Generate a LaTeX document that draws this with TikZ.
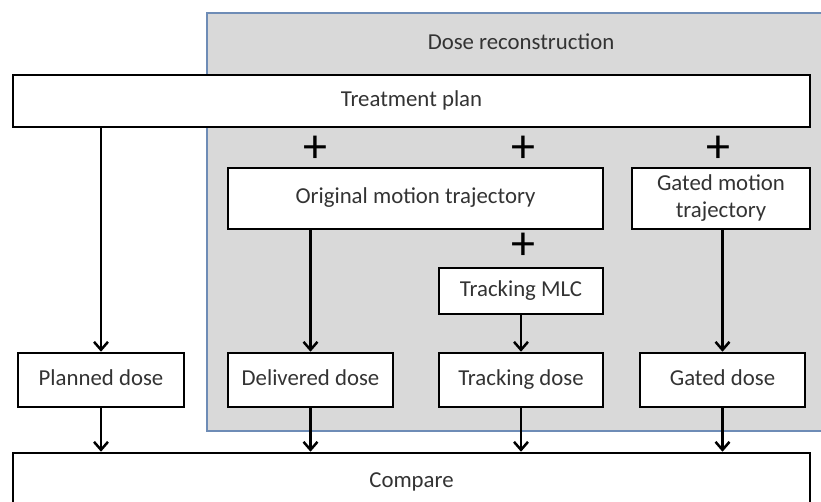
\documentclass[tikz,border=0pt]{standalone}
\usepackage{fontspec}
\setmainfont{Carlito}
\usetikzlibrary{arrows.meta,positioning}
\definecolor{recfill}{RGB}{217,217,217}
\definecolor{recline}{RGB}{110,140,182}

\begin{document}
\begin{tikzpicture}[x=0.5pt,y=-0.5pt,>={Straight Barb[length=4pt,width=7pt]},
                    line width=1.25pt,
                    font=\fontsize{11.4}{13.5}\selectfont,
                    box/.style={draw,fill=white,text=black!80,align=center,
                                inner sep=2pt,minimum height=27pt},
                    single/.style={text height=1.6ex,text depth=.45ex},
                    plus/.style={font=\fontsize{24}{24}\selectfont,inner sep=0pt}]
    \useasboundingbox (0,0) rectangle (821,502);
    % dose reconstruction area
    \draw[fill=recfill,draw=recline,line width=1.2pt] (207,13) rectangle (840,431);
    \node[text=black!80] (title) at (521,42) {Dose reconstruction};

    \node[box,single,minimum width=398.5pt,minimum height=26pt] (plan)  at (411.5,101) {Treatment plan};
    \node[box,single,minimum width=187.5pt,minimum height=30.5pt] (orig) at (415.5,198.5) {Original motion trajectory};
    \node[box,minimum width=89pt,minimum height=30.5pt]  (gtraj) at (721,198.5) {Gated motion\\trajectory};
    \node[box,single,minimum width=82pt,minimum height=23pt]    (mlc)   at (521,291) {Tracking MLC};

    \node[plus] (p1) at (315,149) {+};
    \node[plus] (p2) at (523,149) {+};
    \node[plus] (p3) at (718,149) {+};
    \node[plus] (p4) at (523,246) {+};

    \node[box,single,minimum width=83pt] (planned)   at (101,380)   {Planned dose};
    \node[box,single,minimum width=82.5pt] (delivered) at (310.5,380) {Delivered dose};
    \node[box,single,minimum width=82pt] (tracking)  at (521,380)   {Tracking dose};
    \node[box,single,minimum width=82.5pt] (gdose)     at (722.5,380) {Gated dose};

    \node[box,single,minimum width=398.5pt,minimum height=29pt] (compare) at (411.5,482) {Compare};

    \draw[->] (plan.south -| planned) -- (planned);
    \draw[->] (orig.south -| delivered) -- (delivered);
    \draw[->] (mlc) -- (tracking);
    \draw[->] (gtraj.south -| gdose) -- (gdose);
    \foreach \d in {planned,delivered,tracking,gdose}
        \draw[->] (\d) -- (\d |- compare.north);
\end{tikzpicture}
\end{document}
